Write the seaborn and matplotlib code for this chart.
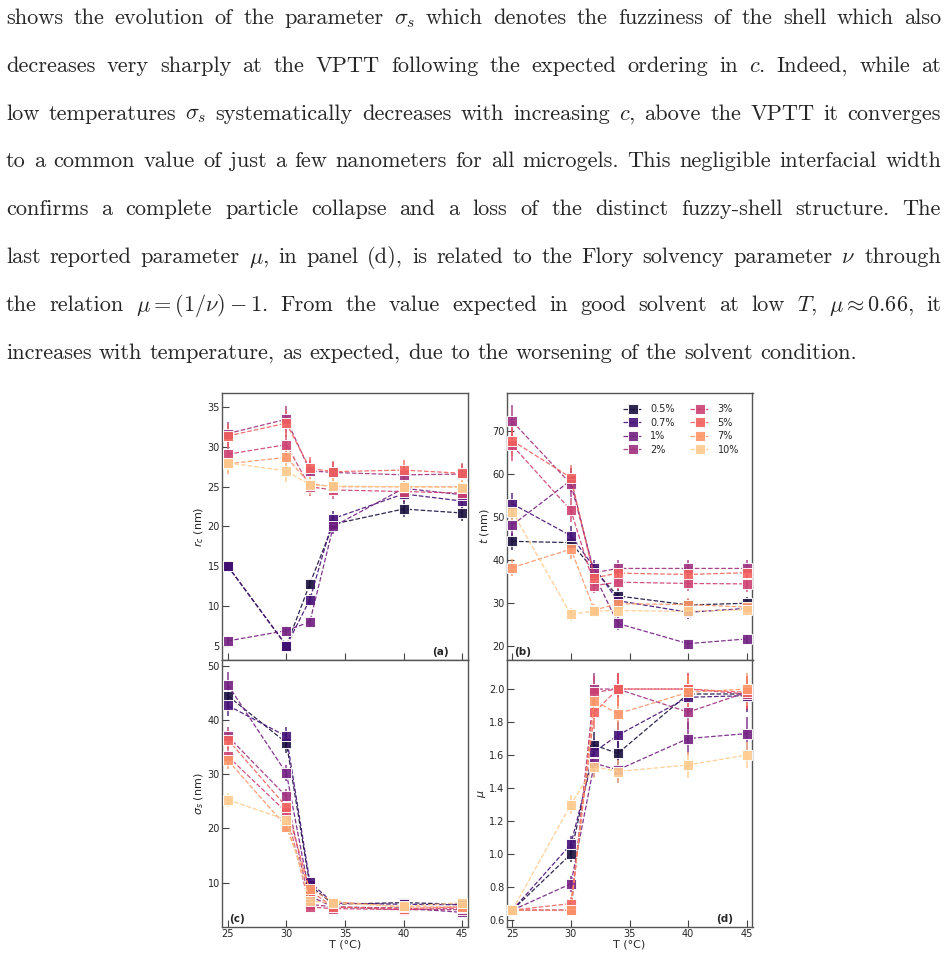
import numpy as np
import pandas as pd
import matplotlib
matplotlib.use('Agg')
import matplotlib.pyplot as plt
import seaborn as sns

# 本文（LaTeXページの段落）
PARA_LINES = [
    r"shows the evolution of the parameter $\sigma_s$ which denotes the fuzziness of the shell which also",
    r"decreases very sharply at the VPTT following the expected ordering in $c$. Indeed, while at",
    r"low temperatures $\sigma_s$ systematically decreases with increasing $c$, above the VPTT it converges",
    r"to a common value of just a few nanometers for all microgels. This negligible interfacial width",
    r"confirms a complete particle collapse and a loss of the distinct fuzzy-shell structure. The",
    r"last reported parameter $\mu$, in panel (d), is related to the Flory solvency parameter $\nu$ through",
    r"the relation $\mu = (1/\nu) - 1$. From the value expected in good solvent at low $T$, $\mu \approx 0.66$, it",
    r"increases with temperature, as expected, due to the worsening of the solvent condition.",
]

# 濃度と温度
CONC = ['0.5%', '0.7%', '1%', '2%', '3%', '5%', '7%', '10%']
T_VALUES = [25, 30, 32, 34, 40, 45]

# (a) r_c (nm)
RC_VALUES = [
    [15.0, 5.0, 12.8, 20.3, 22.2, 21.7],
    [15.0, 5.0, 10.8, 21.0, 24.1, 23.2],
    [5.6, 6.9, 8.0, 20.0, 24.8, 24.0],
    [31.7, 33.5, 27.0, 26.8, 26.5, 26.6],
    [29.1, 30.3, 25.0, 24.6, 24.4, 24.2],
    [31.4, 33.0, 27.3, 26.9, 27.1, 26.7],
    [27.9, 28.7, 25.4, 25.0, 25.0, 25.0],
    [28.0, 27.0, 25.2, 25.1, 25.0, 24.9],
]
RC_ERRORS = [
    [0.6, 0.6, 0.6, 0.9, 1.0, 1.0],
    [0.6, 0.6, 0.7, 1.0, 1.0, 1.0],
    [0.5, 0.6, 0.6, 0.9, 1.0, 1.0],
    [1.5, 1.7, 1.4, 1.3, 1.3, 1.3],
    [1.2, 1.4, 1.2, 1.2, 1.2, 1.2],
    [1.5, 1.7, 1.4, 1.3, 1.3, 1.3],
    [1.3, 1.4, 1.2, 1.2, 1.2, 1.2],
    [1.3, 1.4, 1.2, 1.2, 1.2, 1.2],
]

# (b) t (nm)
T_THICK = [
    [44.3, 44.0, 37.5, 31.6, 29.5, 29.9],
    [53.0, 45.6, 38.2, 30.5, 27.8, 28.7],
    [48.1, 58.5, 36.5, 25.2, 20.5, 21.6],
    [72.2, 57.6, 37.0, 38.0, 38.0, 38.0],
    [66.6, 51.5, 34.0, 34.8, 34.5, 34.4],
    [67.7, 59.1, 35.8, 36.9, 36.6, 37.0],
    [38.2, 42.5, 28.3, 29.8, 29.6, 29.0],
    [51.2, 27.3, 28.1, 28.2, 28.0, 28.4],
]
T_ERRORS = [
    [2.0, 2.0, 1.5, 1.5, 1.5, 1.5],
    [2.5, 2.2, 1.8, 1.5, 1.5, 1.5],
    [2.5, 2.8, 1.8, 1.5, 1.2, 1.2],
    [3.8, 3.0, 2.0, 2.0, 2.0, 2.0],
    [3.5, 2.8, 1.8, 1.8, 1.8, 1.8],
    [3.5, 3.0, 1.8, 1.8, 1.8, 1.8],
    [2.0, 2.2, 1.5, 1.5, 1.5, 1.5],
    [2.5, 1.5, 1.5, 1.5, 1.5, 1.5],
]

# (c) sigma_s (nm)
SIGMA_VALUES = [
    [44.5, 35.8, 9.5, 6.0, 6.3, 6.0],
    [42.7, 37.0, 10.1, 6.2, 6.0, 5.9],
    [46.5, 30.2, 7.5, 5.5, 5.3, 4.5],
    [37.0, 25.9, 6.0, 5.5, 5.0, 5.0],
    [33.3, 23.0, 5.5, 5.2, 5.0, 5.3],
    [36.4, 24.0, 8.5, 5.5, 5.2, 5.5],
    [32.6, 20.3, 8.8, 6.5, 5.5, 5.5],
    [25.3, 21.6, 6.6, 6.2, 5.6, 6.3],
]
SIGMA_ERRORS = [
    [2.0, 1.8, 0.8, 0.6, 0.6, 0.6],
    [2.0, 1.8, 0.8, 0.6, 0.6, 0.6],
    [2.3, 1.5, 0.7, 0.6, 0.6, 0.6],
    [1.8, 1.3, 0.6, 0.6, 0.6, 0.6],
    [1.7, 1.2, 0.6, 0.6, 0.6, 0.6],
    [1.8, 1.2, 0.7, 0.6, 0.6, 0.6],
    [1.6, 1.0, 0.7, 0.6, 0.6, 0.6],
    [1.3, 1.1, 0.6, 0.6, 0.6, 0.6],
]

# (d) mu
MU_VALUES = [
    [0.66, 1.00, 1.66, 1.61, 1.97, 1.97],
    [0.66, 1.06, 1.62, 1.72, 1.95, 1.96],
    [0.66, 0.82, 1.55, 1.51, 1.70, 1.73],
    [0.66, 0.66, 2.00, 2.00, 1.86, 1.98],
    [0.66, 0.66, 1.98, 2.00, 2.00, 1.97],
    [0.66, 0.70, 1.86, 2.00, 2.00, 1.98],
    [0.66, 0.66, 1.93, 1.85, 1.98, 2.00],
    [0.66, 1.30, 1.53, 1.50, 1.54, 1.60],
]
MU_ERRORS = [
    [0.03, 0.05, 0.08, 0.08, 0.1, 0.1],
    [0.03, 0.05, 0.08, 0.08, 0.1, 0.1],
    [0.03, 0.05, 0.08, 0.08, 0.1, 0.1],
    [0.03, 0.03, 0.1, 0.1, 0.1, 0.1],
    [0.03, 0.03, 0.1, 0.1, 0.1, 0.1],
    [0.03, 0.04, 0.1, 0.1, 0.1, 0.1],
    [0.03, 0.03, 0.1, 0.1, 0.1, 0.1],
    [0.03, 0.06, 0.07, 0.07, 0.08, 0.08],
]


def split_words(s):
    """数式 $...$ の中では区切らない単語分割"""
    out, cur, inmath = [], '', False
    for ch in s:
        if ch == '$':
            inmath = not inmath
        if ch == ' ' and not inmath:
            if cur:
                out.append(cur)
            cur = ''
        else:
            cur += ch
    if cur:
        out.append(cur)
    return out


def draw_paragraph(fig, W, H):
    renderer = fig.canvas.get_renderer()
    x_left, x_right = 6, 941
    base0, step = 24, 47.8
    line_w = x_right - x_left

    # 基準サイズで単語幅を測り、両端揃えで自然な語間になるサイズを決める
    f0 = 10.0
    sizes = []
    for line in PARA_LINES[:-1]:
        words = split_words(line)
        ts = [fig.text(0, 0, w, fontsize=f0, family='cmr10', math_fontfamily='cm')
              for w in words]
        wsum = sum(t.get_window_extent(renderer).width for t in ts)
        for t in ts:
            t.remove()
        em0 = f0 * 100 / 72
        sizes.append(f0 * line_w / (wsum + 0.36 * em0 * (len(words) - 1)))
    fs = float(np.median(sizes))
    fs = min(fs, min(sizes) * 1.04) * 0.965

    for i, line in enumerate(PARA_LINES):
        y = 1 - (base0 + i * step) / H
        words = split_words(line)
        texts = [fig.text(0, y, w, fontsize=fs, family='cmr10',
                          math_fontfamily='cm', va='baseline', ha='left')
                 for w in words]
        widths = [t.get_window_extent(renderer).width for t in texts]
        if i < len(PARA_LINES) - 1:
            gap = (line_w - sum(widths)) / (len(words) - 1)
        else:
            gap = 0.333 * fs * 100 / 72
        x = x_left
        for t, w in zip(texts, widths):
            t.set_x(x / W)
            x += w + gap


def panel(ax, values, errors, ylim, yticks, ylabel, tag, tag_pos, pal, legend=False):
    for k, c in enumerate(CONC):
        df = pd.DataFrame({'T': T_VALUES, 'v': values[k]})
        ax.errorbar(T_VALUES, values[k], yerr=errors[k], fmt='none',
                    ecolor=pal[k], elinewidth=1.3, alpha=0.75, capsize=0, zorder=2)
        sns.lineplot(data=df, x='T', y='v', color=pal[k], marker='s',
                     markersize=7.5, linestyle='--', linewidth=0.9, alpha=0.9,
                     label=c if legend else None, ax=ax, zorder=3)
    ax.set_xlim(24.5, 45.5)
    ax.set_ylim(*ylim)
    ax.set_xticks([25, 30, 35, 40, 45])
    ax.set_yticks(yticks)
    ax.set_ylabel(ylabel, fontsize=8, labelpad=1)
    ax.set_xlabel('')
    ax.tick_params(direction='in', length=5, width=0.8, pad=1.5, labelsize=7,
                   color='#444444')
    for sp in ax.spines.values():
        sp.set_color('#555555')
        sp.set_linewidth(1.0)
    ha = 'right' if tag_pos[0] > 0.5 else 'left'
    ax.text(tag_pos[0], tag_pos[1], tag, transform=ax.transAxes, fontsize=7.5,
            fontweight='bold', ha=ha, va='bottom')
    if ax.get_legend() is not None and not legend:
        ax.get_legend().remove()


def main():
    sns.set_style('ticks')
    plt.rcParams['font.family'] = ['DejaVu Sans']

    W, H = 948, 956
    fig = plt.figure(figsize=(W / 100, H / 100), dpi=100)

    pal = sns.color_palette('magma', len(CONC))

    # 軸の配置（ピクセル→割合）
    aw, ah = 246 / W, 267 / H
    ax_a = fig.add_axes([222 / W, 1 - 660 / H, aw, ah])
    ax_b = fig.add_axes([506.5 / W, 1 - 660 / H, aw, ah])
    ax_c = fig.add_axes([222 / W, 1 - 927 / H, aw, ah])
    ax_d = fig.add_axes([506.5 / W, 1 - 927 / H, aw, ah])

    panel(ax_a, RC_VALUES, RC_ERRORS, (3.2, 36.8), range(5, 36, 5),
          r'$r_c$ (nm)', '(a)', (0.92, 0.01), pal)
    panel(ax_b, T_THICK, T_ERRORS, (16.7, 78.8), range(20, 71, 10),
          r'$t$ (nm)', '(b)', (0.03, 0.01), pal, legend=True)
    panel(ax_c, SIGMA_VALUES, SIGMA_ERRORS, (1.8, 51.1), range(10, 51, 10),
          r'$\sigma_s$ (nm)', '(c)', (0.03, 0.01), pal)
    panel(ax_d, MU_VALUES, MU_ERRORS, (0.558, 2.176),
          [0.6, 0.8, 1.0, 1.2, 1.4, 1.6, 1.8, 2.0], r'$\mu$', '(d)', (0.92, 0.01), pal)
    ax_d.yaxis.set_major_formatter(matplotlib.ticker.FormatStrFormatter('%.1f'))

    for ax in (ax_a, ax_b):
        ax.tick_params(labelbottom=False)
    for ax in (ax_c, ax_d):
        ax.set_xlabel('T (°C)', fontsize=8, labelpad=0)

    ax_b.legend(ncol=2, frameon=False, fontsize=7, loc='upper right',
                bbox_to_anchor=(0.98, 0.99), labelspacing=0.35,
                columnspacing=1.6, handlelength=2.0, handletextpad=0.8)

    draw_paragraph(fig, W, H)

    fig.savefig('out.png', dpi=100, facecolor='white')


if __name__ == '__main__':
    main()
